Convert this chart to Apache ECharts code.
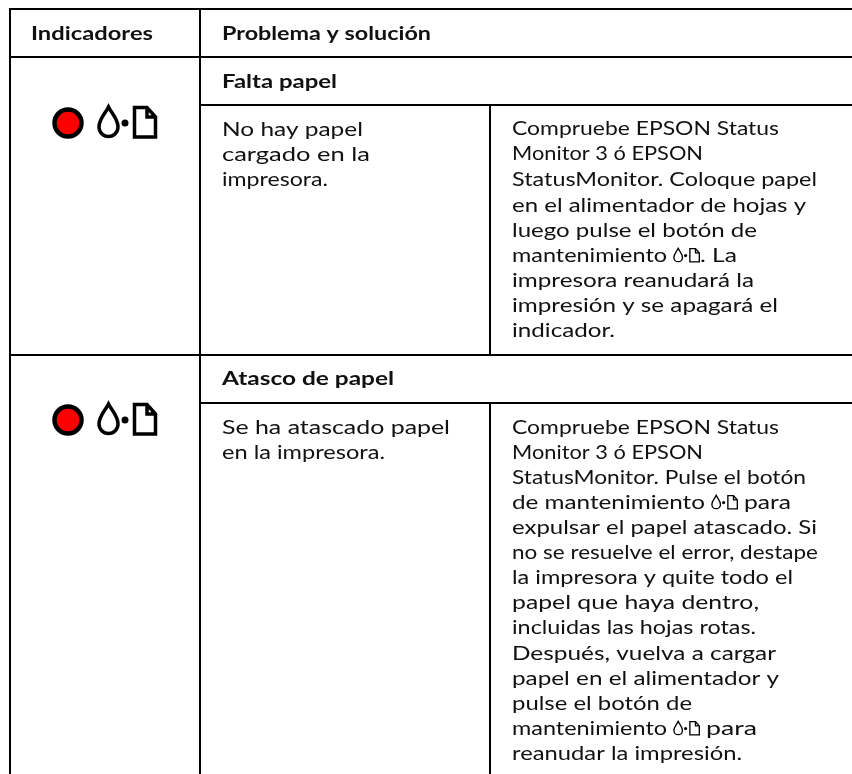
<!DOCTYPE html>
<html><head><meta charset="utf-8">
<style>html,body{margin:0;padding:0;background:#fff}#c{width:852px;height:774px}</style>
<script src="https://cdn.jsdelivr.net/npm/echarts@6/dist/echarts.min.js"></script>
</head><body><div id="c"></div>
<script>
// Table text. "@" marks the inline maintenance-button icon.
const encabezados = ["Indicadores", "Problema y solución"];
const problemas = ["Falta papel", "Atasco de papel"];
const causaFalta = ["No hay papel", "cargado en la", "impresora."];
const causaAtasco = ["Se ha atascado papel", "en la impresora."];
const solucionFalta = ["Compruebe EPSON Status", "Monitor 3 ó EPSON", "StatusMonitor. Coloque papel", "en el alimentador de hojas y", "luego pulse el botón de", "mantenimiento @. La", "impresora reanudará la", "impresión y se apagará el", "indicador."];
const solucionAtasco = ["Compruebe EPSON Status", "Monitor 3 ó EPSON", "StatusMonitor. Pulse el botón", "de mantenimiento @ para", "expulsar el papel atascado. Si", "no se resuelve el error, destape", "la impresora y quite todo el", "papel que haya dentro,", "incluidas las hojas rotas.", "Después, vuelva a cargar", "papel en el alimentador y", "pulse el botón de", "mantenimiento @ para", "reanudar la impresión."];

// Layout (right end of each text segment)
const FONT = 'Lato', SIZE = 18.5, INK = '#111', ASC = 14.6;
const endsSolFalta = [[779],[703],[817],[806],[757],[667,737],[754],[778],[615]];
const baseSolFalta = [134,159,185,211,236,261,286,311,336.5];
const endsSolAtasco = [[779],[703],[806],[705,791],[817],[818],[793],[759],[756],[776],[779],[692],[667,757],[742]];
const baseSolAtasco = [433,458,483,508,533,558,583,608,633,659,684,709,734,759];

const ctx = document.createElement('canvas').getContext('2d');
const DROP = 'M11.5,2 C8,9 2,14 2,22 A9.5,9.5 0 0 0 21,22 C21,14 15,9 11.5,2 Z';
const PAGE = 'M37.5,2.5 H50 L58.5,12 V32 H37.5 Z M50,2.5 V12 H58.5';
echarts.graphic.registerShape('iconDrop', echarts.graphic.extendPath(DROP, {}));
echarts.graphic.registerShape('iconPage', echarts.graphic.extendPath(PAGE, {}));

const els = [];
function seg(str, x, endX, y, bold) {
  const f = (bold ? '700 ' : '400 ') + SIZE + 'px ' + FONT;
  ctx.font = f;
  const w = ctx.measureText(str).width;
  els.push({type:'text', x:x, y:y-ASC, scaleX:(endX-x)/w, silent:true,
    style:{text:str, x:0, y:0, fill:INK, font:f, align:'left', verticalAlign:'top'}});
}
function icon(x, y, s, lw) {
  els.push({type:'iconDrop', x:x, y:y, scaleX:s, scaleY:s, style:{fill:'#fff', stroke:'#000', lineWidth:lw}, silent:true});
  els.push({type:'circle', shape:{cx:x+28*s, cy:y+18*s, r:3.5*s}, style:{fill:'#000'}, silent:true});
  els.push({type:'iconPage', x:x, y:y, scaleX:s, scaleY:s, style:{fill:'#fff', stroke:'#000', lineWidth:lw}, silent:true});
}
function line(x1,y1,x2,y2){
  els.push({type:'line', shape:{x1,y1,x2,y2}, style:{stroke:'#000', lineWidth:2}, silent:true});
}
function block(lines, x, bases, ends) {
  lines.forEach((t,i)=>{
    const parts = t.split('@');
    if (parts.length === 1) { seg(t, x, ends[i][0], bases[i]); return; }
    const left = parts[0].trim(), right = parts[1].trim();
    seg(left, x, ends[i][0], bases[i]);
    const ix = ends[i][0] + 6;
    icon(ix, bases[i]-13.5, 0.45, 3);
    const rx = ix + 27 + (right.startsWith('.') ? 0 : 6);
    seg(right, rx, ends[i][1], bases[i]);
  });
}

// Rules
line(9,9,852,9); line(9,57,852,57); line(200,105,852,105);
line(9,355,852,355); line(200,403,852,403);
line(10,8,10,774); line(200,8,200,774);
line(490,105,490,355); line(490,403,490,774);

// Headings
seg(encabezados[0], 31, 153, 39, true);
seg(encabezados[1], 222, 431, 39, true);
seg(problemas[0], 222, 337, 87, true);
seg(problemas[1], 222, 394, 384, true);

// Problem text
block(causaFalta, 222, [135,160,185], [[363],[370],[328]]);
block(causaAtasco, 222, [433,458], [[450],[385]]);
block(solucionFalta, 512, baseSolFalta, endsSolFalta);
block(solucionAtasco, 512, baseSolAtasco, endsSolAtasco);

// Indicators
[[68,123,97,105],[68,420,97,402]].forEach(p=>{
  els.push({type:'circle', shape:{cx:p[0], cy:p[1], r:13.5}, style:{fill:'#f00', stroke:'#000', lineWidth:4.5}, silent:true});
  icon(p[2], p[3], 1, 3.5);
});

const chart = echarts.init(document.getElementById('c'), null, {renderer:'canvas', width:852, height:774});
chart.setOption({backgroundColor:'#fff', animation:false, graphic:{elements:els}});
</script></body></html>
